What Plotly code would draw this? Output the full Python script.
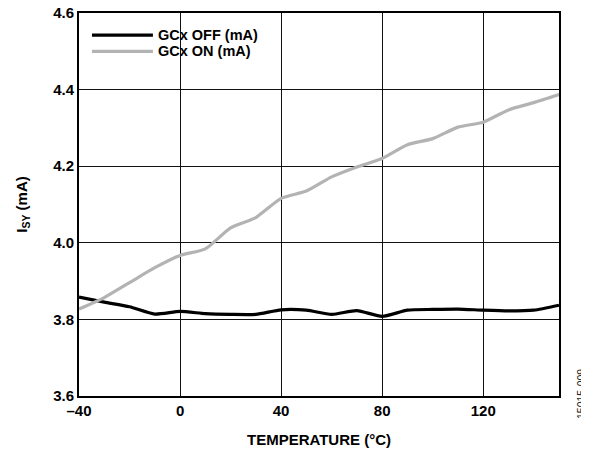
import plotly.graph_objects as go

temperature = [-40, -30, -20, -10, 0, 10, 20, 30, 40, 50, 60, 70, 80, 90, 100, 110, 120, 130, 140, 150]
gcx_off = [3.858, 3.845, 3.833, 3.814, 3.821, 3.815, 3.813, 3.813, 3.825, 3.824, 3.813, 3.823, 3.808,
           3.824, 3.826, 3.827, 3.824, 3.822, 3.824, 3.837]
gcx_on = [3.827, 3.857, 3.896, 3.935, 3.967, 3.984, 4.039, 4.066, 4.116, 4.135, 4.172, 4.198, 4.220,
          4.256, 4.272, 4.302, 4.315, 4.347, 4.366, 4.387]
series_names = ["GCx OFF (mA)", "GCx ON (mA)"]
series_colors = ["#000000", "#b3b3b3"]
x_ticks = [-40, 0, 40, 80, 120]
y_ticks = [3.6, 3.8, 4.0, 4.2, 4.4, 4.6]

FONT = "Liberation Sans, Arial, sans-serif"

# page body has an 8px default margin, so the figure is sized/placed to compensate
fig = go.Figure()
for name, ys, col in zip(series_names, [gcx_off, gcx_on], series_colors):
    fig.add_trace(go.Scatter(x=temperature, y=ys, mode="lines", name=name,
                             line=dict(color=col, width=3.2, shape="spline", smoothing=0.6),
                             showlegend=False))

# manual legend (long line samples as in reference)
shapes = [dict(type="rect", xref="paper", yref="paper", x0=0.003, x1=0.405, y0=0.866, y1=0.986,
               fillcolor="white", line=dict(width=0), layer="between")]
annotations = []
leg_y = [0.942, 0.900]
for name, col, yy in zip(series_names, series_colors, leg_y):
    shapes.append(dict(type="line", xref="paper", yref="paper", x0=0.027, x1=0.154, y0=yy, y1=yy,
                       line=dict(color=col, width=3.2), layer="above"))
    annotations.append(dict(xref="paper", yref="paper", x=0.160, y=yy, xanchor="left", yanchor="middle",
                            text="<b>%s</b>" % name, showarrow=False,
                            font=dict(family=FONT, size=14.5, color="black")))

annotations.append(dict(xref="paper", yref="paper", x=(581 - 79) / 480, y=(396 - 394) / 386,
                        text="15015-009", textangle=-90, showarrow=False,
                        xanchor="center", yanchor="middle",
                        font=dict(family=FONT, size=10.5, color="#222222")))

fig.update_layout(
    width=581, height=442,
    margin=dict(l=71, r=30, t=5, b=54),
    paper_bgcolor="white", plot_bgcolor="white",
    font=dict(family=FONT, size=15, color="black"),
    shapes=shapes, annotations=annotations,
    xaxis=dict(range=[-40, 150], tickvals=x_ticks, automargin=False,
               ticktext=["<b>%s</b>" % ("\u2013" + str(abs(v)) if v < 0 else str(v)) for v in x_ticks],
               showgrid=True, gridcolor="#111111", gridwidth=1,
               showline=True, linecolor="black", linewidth=2, mirror=True,
               ticks="", zeroline=False, tickfont=dict(size=15), ticklabeloverflow="allow",
               title=dict(text="<b>TEMPERATURE (°C)</b>", font=dict(size=15), standoff=16)),
    yaxis=dict(range=[3.6, 4.6], tickvals=y_ticks, automargin=False,
               ticktext=["<b>%.1f</b>" % v for v in y_ticks],
               showgrid=True, gridcolor="#111111", gridwidth=1,
               showline=True, linecolor="black", linewidth=2, mirror=True,
               ticks="", zeroline=False, tickfont=dict(size=15), ticklabeloverflow="allow",
               title=dict(text="<b>I<sub>SY</sub> (mA)</b>", font=dict(size=15), standoff=22)),
)

fig.write_html("out.html")
